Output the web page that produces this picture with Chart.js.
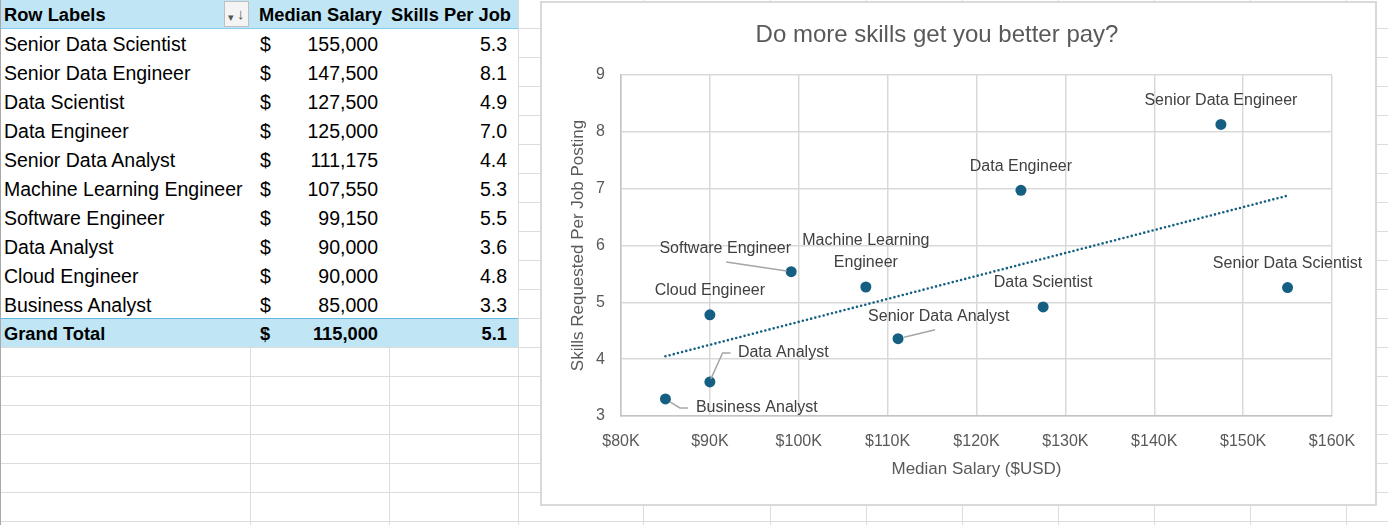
<!DOCTYPE html>
<html>
<head>
<meta charset="utf-8">
<script src="https://cdn.jsdelivr.net/npm/chart.js@4.4.0/dist/chart.umd.min.js"></script>
<style>
  html, body { margin: 0; padding: 0; }
  body { width: 1388px; height: 525px; overflow: hidden; position: relative; background: #fff;
         font-family: 'Liberation Sans', Arial, sans-serif; }
  .gl { position: absolute; background: #DCDCDC; }
  #pivot { position: absolute; left: 0; top: 0; width: 518px; height: 347px; background: #fff; }
  .band { position: absolute; left: 0; width: 518px; height: 29px; background: #C0E6F5; }
  .cell { position: absolute; height: 28px; line-height: 30px; font-size: 19.5px; color: #000; white-space: nowrap; }
  .b { font-weight: bold; font-size: 18.3px; }
  #filterBtn { position: absolute; left: 224px; top: 1px; width: 23px; height: 24px; border: 1px solid #BFBFBF;
               background: #F4F4F4; font-size: 15px; color: #555; line-height: 24px; }
  #chartBox { position: absolute; left: 540px; top: 1px; width: 833px; height: 501px; border: 2px solid #D9D9D9; background: #fff; }
  #leftEdge { position: absolute; left: 0; top: 0; width: 1px; height: 525px; background: #A8A8A8; }
</style>
</head>
<body>
<div id="gridBg"></div>
<div id="pivot"></div>
<div id="leftEdge"></div>
<div id="chartBox"><canvas id="c" width="833" height="501"></canvas></div>
<script>
// ---------------- data ----------------
const categories = [
  'Senior Data Scientist', 'Senior Data Engineer', 'Data Scientist', 'Data Engineer',
  'Senior Data Analyst', 'Machine Learning Engineer', 'Software Engineer', 'Data Analyst',
  'Cloud Engineer', 'Business Analyst'
];
const medianSalary = [155000, 147500, 127500, 125000, 111175, 107550, 99150, 90000, 90000, 85000];
const skillsPerJob = [5.26, 8.13, 4.92, 6.97, 4.36, 5.27, 5.54, 3.60, 4.78, 3.30];
const grandTotalSalary = 115000;
const grandTotalSkills = 5.1;
const tableHeaders = ['Row Labels', 'Median Salary', 'Skills Per Job'];
const totalLabel = 'Grand Total';
const chartTitle = 'Do more skills get you better pay?';
const xAxisTitle = 'Median Salary ($USD)';
const yAxisTitle = 'Skills Requested Per Job Posting';

// ---------------- sheet grid background ----------------
const gridBg = document.getElementById('gridBg');
function line(x, y, w, h) {
  const d = document.createElement('div');
  d.className = 'gl';
  d.style.left = x + 'px'; d.style.top = y + 'px'; d.style.width = w + 'px'; d.style.height = h + 'px';
  gridBg.appendChild(d);
}
for (let k = 1; k <= 18; k++) line(0, 29 * k - 1, 1388, 1);
[250, 389, 518, 643, 770, 866, 962, 1058, 1154, 1250, 1346].forEach(x => line(x, 0, 1, 525));

// ---------------- pivot table ----------------
const pivot = document.getElementById('pivot');
function cell(text, left, top, opts = {}) {
  const d = document.createElement('div');
  d.className = 'cell' + (opts.bold ? ' b' : '');
  d.textContent = text;
  d.style.top = top + 'px';
  if (opts.right !== undefined) { d.style.right = (518 - opts.right) + 'px'; }
  else d.style.left = left + 'px';
  pivot.appendChild(d);
}
function band(top, borderSide) {
  const d = document.createElement('div');
  d.className = 'band';
  d.style.top = top + 'px';
  if (borderSide === 'bottom') d.style.borderBottom = '1px solid #83CCEB';
  if (borderSide === 'top') d.style.borderTop = '1px solid #61B8E0';
  d.style.height = '28px';
  pivot.appendChild(d);
}
band(0, 'bottom');
band(318, 'top');
cell(tableHeaders[0], 4, 0, { bold: true });
cell(tableHeaders[1], 0, 0, { bold: true, right: 382 });
cell(tableHeaders[2], 0, 0, { bold: true, right: 511 });
const fb = document.createElement('div');
fb.id = 'filterBtn';
fb.innerHTML = '<span style="position:absolute;left:3px;top:3px;font-size:11px">&#9662;</span><span style="position:absolute;left:12px;top:0px">&#8595;</span>';
pivot.appendChild(fb);
const fmt = v => v.toLocaleString('en-US');
categories.forEach((c, i) => {
  const top = 29 * (i + 1);
  cell(c, 4, top);
  cell('$', 260, top);
  cell(fmt(medianSalary[i]), 0, top, { right: 378 });
  cell(skillsPerJob[i].toFixed(1), 0, top, { right: 507 });
});
cell(totalLabel, 4, 319, { bold: true });
cell('$', 260, 319, { bold: true });
cell(fmt(grandTotalSalary), 0, 319, { bold: true, right: 378 });
cell(grandTotalSkills.toFixed(1), 0, 319, { bold: true, right: 507 });

// ---------------- chart ----------------
const FONT = "'Liberation Sans', Arial, sans-serif";
const POINT_COLOR = '#156082';
const points = medianSalary.map((x, i) => ({ x, y: skillsPerJob[i] }));

// linear trendline (least squares), like Excel's trendline
const n = points.length;
const mx = medianSalary.reduce((a, b) => a + b, 0) / n;
const my = skillsPerJob.reduce((a, b) => a + b, 0) / n;
let sxy = 0, sxx = 0;
points.forEach(p => { sxy += (p.x - mx) * (p.y - my); sxx += (p.x - mx) * (p.x - mx); });
const slope = sxy / sxx, intercept = my - slope * mx;
const xMin = Math.min(...medianSalary), xMax = Math.max(...medianSalary);
const trend = [{ x: xMin, y: intercept + slope * xMin }, { x: xMax, y: intercept + slope * xMax }];

// label placement relative to each point (pixels)
const labelPlacement = {
  'Senior Data Scientist': { dx: 0, dy: -24 },
  'Senior Data Engineer': { dx: 0, dy: -24 },
  'Data Scientist': { dx: 0, dy: -24 },
  'Data Engineer': { dx: 0, dy: -23.5 },
  'Senior Data Analyst': { dx: -30, dy: -22, align: 'left', leader: [[37, -9], [6, -1.5]] },
  'Machine Learning Engineer': { dx: 0, dy: -46, lines: ['Machine Learning', 'Engineer'], lh: 22 },
  'Software Engineer': { dx: -66, dy: -23, leader: [[-65, -9.6], [-4.5, -0.6]] },
  'Data Analyst': { dx: 28, dy: -29, align: 'left', leader: [[1, -3], [12.7, -29], [20.7, -29]] },
  'Cloud Engineer': { dx: 0, dy: -24 },
  'Business Analyst': { dx: 30.5, dy: 9, align: 'left', leader: [[4.5, 3], [14.5, 9], [22.5, 9]] }
};

const labelsPlugin = {
  id: 'pointLabels',
  afterDatasetsDraw(chart) {
    const ctx = chart.ctx;
    const meta = chart.getDatasetMeta(1);
    ctx.save();
    meta.data.forEach((el, i) => {
      const name = categories[i];
      const p = labelPlacement[name] || { dx: 0, dy: -24 };
      if (p.leader) {
        ctx.beginPath();
        ctx.strokeStyle = '#A6A6A6';
        ctx.lineWidth = 1.5;
        p.leader.forEach((q, k) => {
          if (k === 0) ctx.moveTo(el.x + q[0], el.y + q[1]);
          else ctx.lineTo(el.x + q[0], el.y + q[1]);
        });
        ctx.stroke();
      }
      ctx.font = '16px ' + FONT;
      ctx.fillStyle = '#404040';
      ctx.textBaseline = 'middle';
      ctx.textAlign = p.align || 'center';
      const lines = p.lines || [name];
      lines.forEach((t, k) => ctx.fillText(t, el.x + p.dx, el.y + p.dy + k * (p.lh || 0)));
    });
    ctx.restore();
  }
};

new Chart(document.getElementById('c'), {
  data: {
    datasets: [
      {
        type: 'line',
        label: 'Trendline',
        data: trend,
        borderColor: POINT_COLOR,
        borderWidth: 2.6,
        borderDash: [0, 4.3],
        borderCapStyle: 'round',
        pointRadius: 0,
        fill: false
      },
      {
        type: 'scatter',
        label: 'Skills Per Job',
        data: points,
        backgroundColor: POINT_COLOR,
        borderColor: POINT_COLOR,
        borderWidth: 0,
        pointRadius: 5.5
      }
    ]
  },
  options: {
    responsive: false,
    animation: false,
    devicePixelRatio: 1,
    layout: { padding: { left: 0, right: 43, top: 0, bottom: 0 } },
    plugins: {
      legend: { display: false },
      tooltip: { enabled: false },
      title: {
        display: true,
        text: chartTitle,
        color: '#595959',
        font: { family: FONT, size: 24, weight: 'normal', lineHeight: 1.2 },
        padding: { top: 18, bottom: 25.2 }
      }
    },
    scales: {
      x: {
        type: 'linear',
        min: 80000, max: 160000,
        afterFit(s) { s.height = 88; },
        ticks: {
          stepSize: 10000,
          padding: 16,
          color: '#595959',
          font: { family: FONT, size: 16 },
          callback: v => '$' + (v / 1000) + 'K'
        },
        grid: { color: '#D9D9D9', lineWidth: 1.5, drawTicks: false },
        border: { color: '#C4C4C4', width: 1.5 },
        title: {
          display: true, text: xAxisTitle, color: '#595959',
          font: { family: FONT, size: 17 }, padding: { top: 0, bottom: 24 }
        }
      },
      y: {
        type: 'linear',
        min: 3, max: 9,
        afterFit(s) { s.width = 79; },
        ticks: {
          stepSize: 1,
          padding: 16,
          color: '#595959',
          font: { family: FONT, size: 16 }
        },
        grid: { color: '#D9D9D9', lineWidth: 1.5, drawTicks: false },
        border: { color: '#C4C4C4', width: 1.5 },
        title: {
          display: true, text: yAxisTitle, color: '#595959',
          font: { family: FONT, size: 17 }, padding: { top: 25.8, bottom: 0 }
        }
      }
    }
  },
  plugins: [labelsPlugin]
});
</script>
</body>
</html>
